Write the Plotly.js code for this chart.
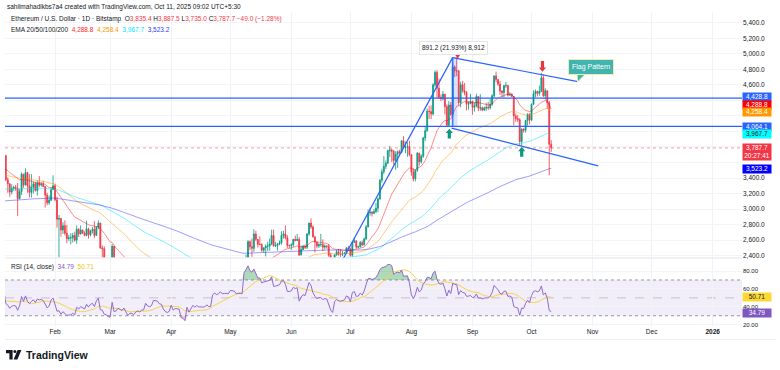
<!DOCTYPE html>
<html><head><meta charset="utf-8">
<script src="https://cdn.plot.ly/plotly-3.0.1.min.js"></script>
<style>html,body{margin:0;padding:0;background:#fff}#chart{width:780px;height:370px}</style>
</head><body><div id="chart"></div>
<script>
// ETH/USD daily closes Dec 1 2024 - Jan 5 2025 (indicator warm-up only, outside view)
const warmupClose = [3705,3630,3615,3840,3785,4000,3995,4005,3715,3625,3830,3880,3905,3870,3960,3985,3890,3625,3420,3480,3335,3280,
  3418,3491,3490,3335,3330,3395,3350,3356,3333,3355,3452,3605,3657,3636];
// Daily candles from 2025-01-06 to 2025-10-11 (open = previous close)
const firstDay = [2025, 0, 6];
const close = [
  3687,3380,3325,3220,3267,3281,3266,3135,3225,3450,3310,3470,3300,3215,3280,3325,3240,3335,3310,3320,3290,3180,3080,3115,3250,3300,
  3120,2870,2880,2730,2785,2690,2620,2630,2630,2660,2600,2740,2680,2730,2690,2660,2745,2670,2720,2740,2660,2765,2820,2500,2490,2335,2310,2235,
  2220,2520,2150,2170,2240,2200,2140,2200,2020,1865,1920,1910,1860,1910,1935,1890,1930,1930,2055,1980,1965,1980,2080,2080,2065,2010,2000,1895,1830,1805,1820,
  1905,1795,1815,1815,1805,1580,1555,1470,1670,1520,1570,1645,1595,1625,1590,1580,1585,1585,1615,1585,1580,1755,1795,1770,1785,1820,1790,1800,1800,1795,
  1840,1840,1835,1810,1815,1815,1810,2205,2345,2580,2515,2495,2680,2610,2545,2545,2470,2500,2520,2525,2550,2660,2525,2530,2550,2565,2660,2680,2630,2530,2530,
  2540,2610,2595,2610,2410,2480,2525,2510,2680,2820,2770,2645,2575,2525,2545,2545,2510,2525,2520,2405,2295,2230,2410,2450,2420,2415,2425,2435,2500,2485,
  2405,2570,2590,2510,2515,2570,2540,2615,2770,2950,2960,2945,2970,3010,3130,3370,3480,3550,3590,3750,3760,3745,3625,3705,3740,3730,3880,3790,3795,3805,3700,
  3480,3390,3500,3720,3610,3680,3915,4010,4260,4255,4225,4600,4760,4555,4440,4420,4480,4320,4080,4340,4220,4830,4780,4780,4370,4600,4520,4500,4350,4360,4390,
  4310,4330,4450,4300,4305,4275,4300,4310,4305,4350,4460,4715,4670,4610,4520,4500,4590,4590,4470,4480,4450,4200,4165,4150,3870,4030,4015,4140,4220,4145,
  4350,4485,4515,4490,4515,4690,4460,4525,4370,3835.4,3787.7];
const high = [
  3745,3700,3410,3335,3320,3300,3310,3335,3260,3470,3455,3525,3480,3450,3450,3355,3350,3370,3425,3345,3365,3265,3210,3175,3280,3435,
  3325,3160,2925,2885,2830,2855,2795,2670,2690,2695,2710,2790,2755,2790,2735,2715,2850,2760,2735,2770,2845,2780,2855,2825,2530,2520,2360,2300,
  2275,2550,2525,2215,2280,2320,2260,2225,2210,2145,1960,1955,1925,1940,1950,1940,1955,1935,2070,2065,2000,2010,2095,2105,2105,2100,2030,2010,1905,1850,1850,
  1920,1955,1830,1830,1830,1815,1640,1620,1690,1690,1585,1665,1690,1690,1665,1605,1610,1600,1630,1620,1660,1785,1830,1785,1815,1830,1850,1810,1840,1815,
  1875,1870,1850,1845,1835,1825,1855,2210,2415,2600,2595,2620,2740,2720,2610,2650,2560,2510,2545,2580,2620,2735,2735,2580,2565,2595,2715,2720,2790,2665,2545,
  2560,2615,2660,2680,2640,2530,2535,2545,2690,2825,2880,2790,2645,2580,2560,2680,2610,2545,2535,2550,2435,2300,2420,2475,2490,2485,2460,2445,2510,2525,
  2500,2580,2640,2600,2530,2590,2595,2635,2795,2995,3020,2975,3000,3080,3150,3390,3520,3680,3625,3765,3815,3780,3760,3745,3755,3765,3885,3940,3870,3860,3880,
  3710,3525,3510,3735,3725,3705,3930,4070,4295,4330,4335,4620,4785,4790,4680,4475,4520,4480,4350,4390,4380,4880,4850,4955,4790,4640,4650,4625,4520,4390,4485,
  4395,4375,4485,4455,4480,4320,4320,4370,4380,4420,4480,4720,4770,4670,4650,4530,4600,4635,4600,4505,4490,4455,4230,4210,4170,4040,4040,4150,4235,4235,
  4360,4530,4540,4525,4590,4755,4735,4555,4525,4390,3887.5];
const low = [
  3630,3360,3210,3160,3190,3235,3235,2910,3125,3180,3275,3305,3210,3150,3150,3200,3225,3175,3285,3290,3285,3020,3050,3055,3105,3245,
  3100,2760,2150,2645,2680,2660,2560,2590,2545,2570,2580,2550,2640,2670,2680,2650,2650,2620,2650,2685,2625,2655,2740,2490,2310,2300,2260,2080,
  2170,2140,2100,1995,2155,2180,2105,2130,1990,1810,1755,1830,1820,1860,1905,1870,1880,1885,1920,1960,1945,1965,1975,2040,2040,1995,1980,1860,1805,1780,1765,
  1815,1780,1755,1760,1780,1540,1410,1460,1385,1470,1505,1545,1575,1585,1580,1535,1565,1575,1580,1565,1570,1575,1750,1725,1740,1775,1780,1745,1785,1750,
  1790,1825,1825,1800,1785,1765,1785,1805,2180,2340,2470,2385,2450,2590,2505,2535,2450,2440,2390,2460,2465,2535,2515,2510,2465,2535,2540,2620,2610,2500,2500,
  2475,2515,2585,2590,2395,2405,2470,2485,2485,2655,2745,2630,2440,2495,2500,2515,2460,2480,2490,2385,2285,2111,2190,2400,2400,2385,2395,2420,2425,2460,
  2390,2385,2565,2490,2495,2505,2525,2530,2605,2765,2915,2905,2935,2950,2960,3120,3340,3450,3515,3580,3670,3605,3570,3505,3530,3705,3720,3785,3720,3675,3680,
  3430,3355,3355,3480,3560,3585,3660,3875,3995,4160,4160,4205,4570,4430,4420,4390,4400,4220,4070,4065,4200,4200,4700,4710,4330,4310,4500,4465,4270,4280,4350,
  4215,4255,4310,4260,4265,4260,4265,4265,4275,4285,4330,4430,4635,4585,4470,4440,4435,4560,4450,4460,4440,4080,4125,4125,3820,3815,3985,3985,4075,4090,
  4140,4340,4440,4450,4460,4505,4440,4410,4290,3435,3735];

const emaPeriods = [20, 50, 100, 200];
const emaSeeds = [3528, 3440, 3257, 3105];
const emaColors = ['rgba(255,0,0,0.45)', 'rgba(255,152,0,0.5)', 'rgba(0,230,255,0.5)', 'rgba(40,40,255,0.45)'];

// Ticks (labels hidden behind the value boxes are left blank)
const monthTicks = ['2025-02-01','2025-03-01','2025-04-01','2025-05-01','2025-06-01','2025-07-01','2025-08-01','2025-09-01','2025-10-01','2025-11-01','2025-12-01','2026-01-01'];
const monthLabels = ['Feb','Mar','Apr','May','Jun','Jul','Aug','Sep','Oct','Nov','Dec','<b>2026</b>'];
const priceTicks = [2400,2600,2800,3000,3200,3400,3600,3800,4000,4200,4400,4600,4800,5000,5200,5400];
const hiddenPriceLabels = [3600,3800,4000,4200,4400];
const rsiTicks = [20,40,60,80];

// Chart annotations (levels)
const levelLines = [4428.8, 4064.1];
const lastPrice = 3787.7;

// ---------- build ----------
const dates = close.map((_, i) => new Date(Date.UTC(firstDay[0], firstDay[1], firstDay[2] + i)).toISOString().slice(0, 10));
const open = close.map((c, i) => i === 0 ? warmupClose[warmupClose.length - 1] : close[i - 1]);

const emas = emaPeriods.map((p, k) => {
  const a = 2 / (p + 1); const out = [emaSeeds[k]];
  for (let i = 1; i < close.length; i++) out.push(out[i - 1] + a * (close[i] - out[i - 1]));
  return out;
});

const all = warmupClose.concat(close);
const rsiAll = new Array(all.length).fill(null);
let ag = 0, al = 0;
for (let i = 1; i <= 14; i++) { const d = all[i] - all[i - 1]; ag += Math.max(d, 0); al += Math.max(-d, 0); }
ag /= 14; al /= 14; rsiAll[14] = 100 - 100 / (1 + ag / al);
for (let i = 15; i < all.length; i++) {
  const d = all[i] - all[i - 1];
  ag = (ag * 13 + Math.max(d, 0)) / 14; al = (al * 13 + Math.max(-d, 0)) / 14;
  rsiAll[i] = al === 0 ? 100 : 100 - 100 / (1 + ag / al);
}
const maAll = rsiAll.map((v, i) => { if (i < 27) return null; let s = 0; for (let j = i - 13; j <= i; j++) s += rsiAll[j]; return s / 14; });
const off = warmupClose.length;
const rsi = rsiAll.slice(off), rsiMA = maAll.slice(off);

// pixel -> paper helpers (plot area: x 5..742, y 12..326)
const PX = px => (px - 5) / 737, PY = py => (326 - py) / 314;
const fmt = v => hiddenPriceLabels.indexOf(v) >= 0 ? '' : v.toLocaleString('en-US') + '.0';

const traces = [
  {type: 'candlestick', x: dates, open: open, high: high, low: low, close: close, xaxis: 'x', yaxis: 'y',
   increasing: {line: {color: '#089981', width: 0.8}, fillcolor: '#089981'},
   decreasing: {line: {color: '#f23645', width: 0.8}, fillcolor: '#f23645'},
   whiskerwidth: 0, hoverinfo: 'skip'}
];
emas.forEach((e, k) => traces.push({type: 'scatter', mode: 'lines', x: dates, y: e, xaxis: 'x', yaxis: 'y',
  line: {color: emaColors[k], width: 1}, hoverinfo: 'skip'}));
traces.push({type: 'scatter', mode: 'lines', x: dates, y: rsi.map(() => 70), xaxis: 'x', yaxis: 'y2', line: {width: 0}, hoverinfo: 'skip'});
traces.push({type: 'scatter', mode: 'lines', x: dates, y: rsi.map(v => Math.max(v, 70)), xaxis: 'x', yaxis: 'y2', line: {width: 0}, fill: 'tonexty', fillcolor: 'rgba(56,160,80,0.4)', hoverinfo: 'skip'});
traces.push({type: 'scatter', mode: 'lines', x: dates, y: rsi.map(() => 30), xaxis: 'x', yaxis: 'y2', line: {width: 0}, hoverinfo: 'skip'});
traces.push({type: 'scatter', mode: 'lines', x: dates, y: rsi.map(v => Math.min(v, 30)), xaxis: 'x', yaxis: 'y2', line: {width: 0}, fill: 'tonexty', fillcolor: 'rgba(242,54,69,0.3)', hoverinfo: 'skip'});
traces.push({type: 'scatter', mode: 'lines', x: dates, y: rsiMA, xaxis: 'x', yaxis: 'y2', line: {color: '#f7d24a', width: 1}, hoverinfo: 'skip'});
traces.push({type: 'scatter', mode: 'lines', x: dates, y: rsi, xaxis: 'x', yaxis: 'y2', line: {color: '#8e6ad0', width: 1}, hoverinfo: 'skip'});

const blue = '#2962ff';
const shapes = [];
// RSI band and levels
shapes.push({type: 'rect', xref: 'paper', yref: 'y2', x0: 0, x1: 1, y0: 30, y1: 70, fillcolor: 'rgba(126,87,194,0.1)', line: {width: 0}, layer: 'below'});
[70, 30].forEach(v => shapes.push({type: 'line', xref: 'paper', yref: 'y2', x0: 0, x1: 1, y0: v, y1: v, line: {color: '#9598a1', width: 1, dash: 'dot'}, layer: 'below'}));
shapes.push({type: 'line', xref: 'paper', yref: 'y2', x0: 0, x1: 1, y0: 50, y1: 50, line: {color: 'rgba(149,152,161,0.5)', width: 1, dash: 'dash'}, layer: 'below'});
// pane separator + bottom lines
shapes.push({type: 'line', xref: 'paper', yref: 'paper', x0: 0, x1: 1, y0: PY(258), y1: PY(258), line: {color: '#e0e3eb', width: 1}});
shapes.push({type: 'line', xref: 'paper', yref: 'paper', x0: 0, x1: PX(776), y0: PY(339.5), y1: PY(339.5), line: {color: '#eef0f4', width: 1}});
// last price line
shapes.push({type: 'line', xref: 'paper', yref: 'y', x0: 0, x1: 1, y0: lastPrice, y1: lastPrice, line: {color: 'rgba(242,54,69,0.5)', width: 1, dash: 'dot'}});
// horizontal levels
levelLines.forEach(v => shapes.push({type: 'line', xref: 'paper', yref: 'y', x0: 0, x1: 1, y0: v, y1: v, line: {color: blue, width: 1.3}}));
// measure box
shapes.push({type: 'rect', xref: 'x', yref: 'y', x0: '2025-08-21 00:00', x1: '2025-08-24 09:00', y0: 4064.1, y1: 4955.3, fillcolor: 'rgba(41,98,255,0.18)', line: {width: 0}});
shapes.push({type: 'line', xref: 'x', yref: 'y', x0: '2025-08-22 00:00', x1: '2025-08-22 00:00', y0: 4064.1, y1: 4955.3, line: {color: blue, width: 1.2}});
// trend lines
shapes.push({type: 'line', xref: 'x', yref: 'y', x0: '2025-06-22', y0: 2111, x1: '2025-08-21 22:00', y1: 4950, line: {color: blue, width: 1.2}});
shapes.push({type: 'line', xref: 'x', yref: 'y', x0: '2025-08-21 22:00', y0: 4950, x1: '2025-10-24 14:00', y1: 4641, line: {color: blue, width: 1.2}});
shapes.push({type: 'line', xref: 'x', yref: 'y', x0: '2025-08-21 10:00', y0: 4042, x1: '2025-11-03 21:00', y1: 3557, line: {color: blue, width: 1.2}});
// block arrows (pixel geometry)
function pathOf(pts) { return 'M ' + pts.map(p => PX(p[0]) + ',' + PY(p[1])).join(' L ') + ' Z'; }
function upArrow(cx, tip, bottom, color) {
  const w = 3.6, hh = 4.2, s = 1.6;
  return {type: 'path', xref: 'paper', yref: 'paper', path: pathOf([[cx, tip], [cx + w, tip + hh], [cx + s, tip + hh], [cx + s, bottom], [cx - s, bottom], [cx - s, tip + hh], [cx - w, tip + hh]]), fillcolor: color, line: {width: 0}};
}
function downArrow(cx, tip, top, color) {
  const w = 3.6, hh = 4.2, s = 1.6;
  return {type: 'path', xref: 'paper', yref: 'paper', path: pathOf([[cx, tip], [cx + w, tip - hh], [cx + s, tip - hh], [cx + s, top], [cx - s, top], [cx - s, tip - hh], [cx - w, tip - hh]]), fillcolor: color, line: {width: 0}};
}
shapes.push(upArrow(449.3, 128.8, 138.5, '#089981'));
shapes.push(upArrow(521.7, 147, 156.8, '#089981'));
shapes.push(downArrow(542.5, 71.7, 61, '#e8363f'));
shapes.push({type: 'path', xref: 'paper', yref: 'paper', path: pathOf([[455, 54.5], [460.5, 54.5], [457.7, 58.5]]), fillcolor: '#e8363f', line: {width: 0}});
// flag pattern callout tail
shapes.push({type: 'path', xref: 'paper', yref: 'paper', path: pathOf([[577, 74.5], [585, 74.5], [577.5, 82]]), fillcolor: '#40b4ad', line: {color: '#f0eab8', width: 1}});
// TradingView logo mark
const ink = '#131722';
shapes.push({type: 'path', xref: 'paper', yref: 'paper', path: pathOf([[6, 350], [12.6, 350], [12.6, 359.5], [9.4, 359.5], [9.4, 353.2], [6, 353.2]]), fillcolor: ink, line: {width: 0}});
shapes.push({type: 'circle', xref: 'paper', yref: 'paper', x0: PX(13.4), x1: PX(16.4), y0: PY(349.9), y1: PY(352.9), fillcolor: ink, line: {width: 0}});
shapes.push({type: 'path', xref: 'paper', yref: 'paper', path: pathOf([[17.6, 350], [21.4, 350], [17.4, 359.5], [13.6, 359.5]]), fillcolor: ink, line: {width: 0}});

const ann = [];
function txt(px, py, text, o) {
  ann.push(Object.assign({xref: 'paper', yref: 'paper', x: PX(px), y: PY(py), text: text, showarrow: false, xanchor: 'left', yanchor: 'middle',
    font: {size: 6.5, color: '#131722'}}, o || {}));
}
const sp = '\u00a0';
const red = '#f23645';
const R = s => '<span style="color:' + red + '">' + s + '</span>';
txt(5, 6.5, 'sahilmahadikbs7a4 created with TradingView.com, Oct 11, 2025 09:02 UTC+5:30');
txt(9, 19, 'Ethereum / U.S. Dollar · 1D · Bitstamp' + sp + sp + 'O' + R('3,835.4') + sp + 'H' + R('3,887.5') + sp + 'L' + R('3,735.0') + sp + 'C' + R('3,787.7') + sp + R('−49.0 (−1.28%)'));
txt(9, 29.5, 'EMA 20/50/100/200' + sp + sp + '<span style="color:#ff1f1f">4,288.8</span>' + sp + sp + '<span style="color:#ff9800">4,258.4</span>' + sp + sp + '<span style="color:#00e5ff">3,967.7</span>' + sp + sp + '<span style="color:#2f3cff">3,523.2</span>');
txt(9, 266.5, 'RSI (14, close)' + sp + sp + '<span style="color:#7e57c2">34.79</span>' + sp + sp + '<span style="color:#f5c400">50.71</span>');
// measure label
ann.push({xref: 'paper', yref: 'paper', x: PX(453.8), y: PY(47.5), text: '891.2 (21.93%) 8,912', showarrow: false, xanchor: 'center', yanchor: 'middle',
  font: {size: 6.5, color: '#131722'}, bgcolor: '#ffffff', bordercolor: '#e3e5ea', borderwidth: 1, borderpad: 2});
// flag pattern
ann.push({xref: 'paper', yref: 'paper', x: PX(591), y: PY(67), text: 'Flag Pattern', showarrow: false, xanchor: 'center', yanchor: 'middle',
  font: {size: 7, color: '#ffffff'}, bgcolor: '#40b4ad', bordercolor: '#f0eab8', borderwidth: 1, borderpad: 3});
// right-side value boxes
function box(py, text, bg, fg, h) {
  ann.push({xref: 'paper', yref: 'paper', x: PX(742), y: PY(py), text: text, showarrow: false, xanchor: 'left', yanchor: 'middle',
    font: {size: 6.5, color: fg}, bgcolor: bg, width: 27, height: h || 6.5, borderpad: 0.5});
}
box(97, '4,428.8', blue, '#fff');
box(104.7, '4,288.8', '#ff0000', '#fff');
box(112.4, '4,258.4', '#ff9800', '#fff');
box(126.6, '4,064.1', blue, '#fff');
box(134.4, '3,967.7', '#00ffff', '#131722');
box(151.5, '3,787.7<br>20:27:41', red, '#fff', 14.5);
box(168.6, '3,523.2', '#0000ff', '#fff');
box(296.8, '50.71', '#fdd835', '#131722');
box(312.6, '34.79', '#7e57c2', '#fff');
// logo text
txt(24, 355, '<b>TradingView</b>', {font: {size: 10.5, color: ink}});

const layout = {
  width: 780, height: 370, margin: {l: 5, r: 38, t: 12, b: 44},
  paper_bgcolor: '#ffffff', plot_bgcolor: '#ffffff', showlegend: false,
  font: {family: 'Liberation Sans, Arial, sans-serif', size: 6.5, color: '#131722'},
  xaxis: {type: 'date', range: ['2025-01-06 14:05', '2026-01-15 21:40'], anchor: 'y2', tickmode: 'array', tickvals: monthTicks, ticktext: monthLabels,
    showgrid: true, gridcolor: '#f0f2f6', ticks: '', showline: false, zeroline: false, rangeslider: {visible: false}, fixedrange: true,
    tickfont: {size: 6.5, color: '#131722'}},
  yaxis: {domain: [0.2182, 1], range: [2376.8, 5537.8], side: 'right', tickmode: 'array', tickvals: priceTicks, ticktext: priceTicks.map(fmt),
    showgrid: true, gridcolor: '#f3f4f7', zeroline: false, showline: false, ticks: '', fixedrange: true, tickfont: {size: 6.5, color: '#131722'}},
  yaxis2: {domain: [0, 0.215], range: [18.5, 94.1], side: 'right', anchor: 'x', tickmode: 'array', tickvals: rsiTicks, ticktext: rsiTicks.map(v => v.toFixed(2)),
    showgrid: true, gridcolor: '#f3f4f7', zeroline: false, showline: false, ticks: '', fixedrange: true, tickfont: {size: 6, color: '#131722'}},
  shapes: shapes, annotations: ann
};
Plotly.newPlot('chart', traces, layout, {staticPlot: true, displayModeBar: false});
</script></body></html>
